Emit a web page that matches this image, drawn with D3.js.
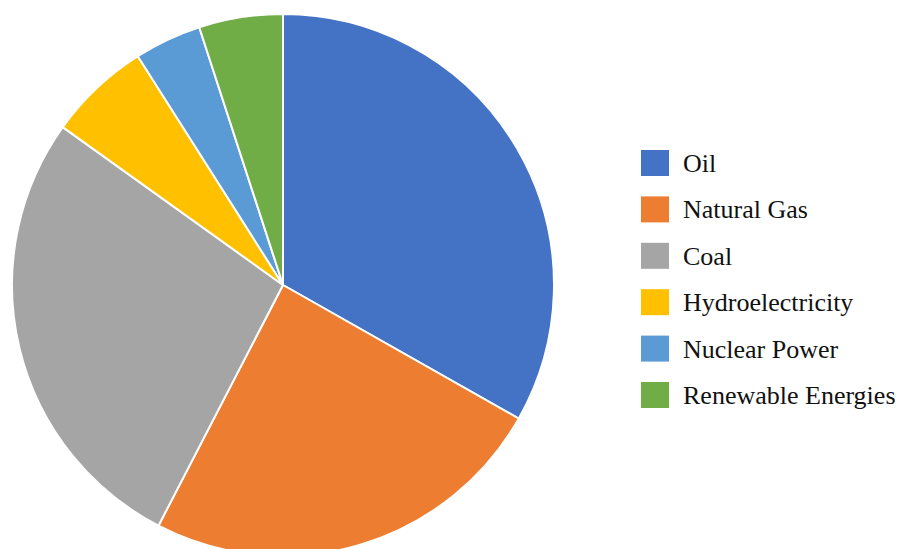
<!DOCTYPE html>
<html>
<head>
<meta charset="utf-8">
<script src="https://cdn.jsdelivr.net/npm/d3@7/dist/d3.min.js"></script>
<style>
  html, body { margin: 0; padding: 0; background: #fff; }
  svg { display: block; }
</style>
</head>
<body>
<svg id="chart" width="908" height="549"></svg>
<script>
// Share of world primary energy consumption by source (%)
const sources = ["Oil", "Natural Gas", "Coal", "Hydroelectricity", "Nuclear Power", "Renewable Energies"];
const shares = [33.2, 24.4, 27.3, 6.1, 4.0, 5.0];
const colors = ["#4472C4", "#ED7D31", "#A5A5A5", "#FFC000", "#5B9BD5", "#70AD47"];

const svg = d3.select("#chart");
const cx = 283, cy = 285, radius = 271;

const data = sources.map((s, i) => ({ source: s, value: shares[i], color: colors[i] }));

const pie = d3.pie().value(d => d.value).sort(null);
const arc = d3.arc().innerRadius(0).outerRadius(radius);

svg.append("g")
  .attr("transform", `translate(${cx},${cy})`)
  .selectAll("path")
  .data(pie(data))
  .join("path")
  .attr("d", arc)
  .attr("fill", d => d.data.color)
  .attr("stroke", "#fff")
  .attr("stroke-width", 2)
  .attr("stroke-linejoin", "round");

// Legend
const legendY = d3.scalePoint().domain(sources).range([150, 382]);
const legend = svg.append("g");
const rows = legend.selectAll("g")
  .data(data)
  .join("g")
  .attr("transform", d => `translate(641,${legendY(d.source)})`);

rows.append("rect")
  .attr("width", 28)
  .attr("height", 26)
  .attr("fill", d => d.color);

rows.append("text")
  .attr("x", 42)
  .attr("y", 22)
  .attr("font-family", "'Liberation Serif', 'Times New Roman', serif")
  .attr("font-size", 26)
  .attr("fill", "#111")
  .text(d => d.source);
</script>
</body>
</html>
